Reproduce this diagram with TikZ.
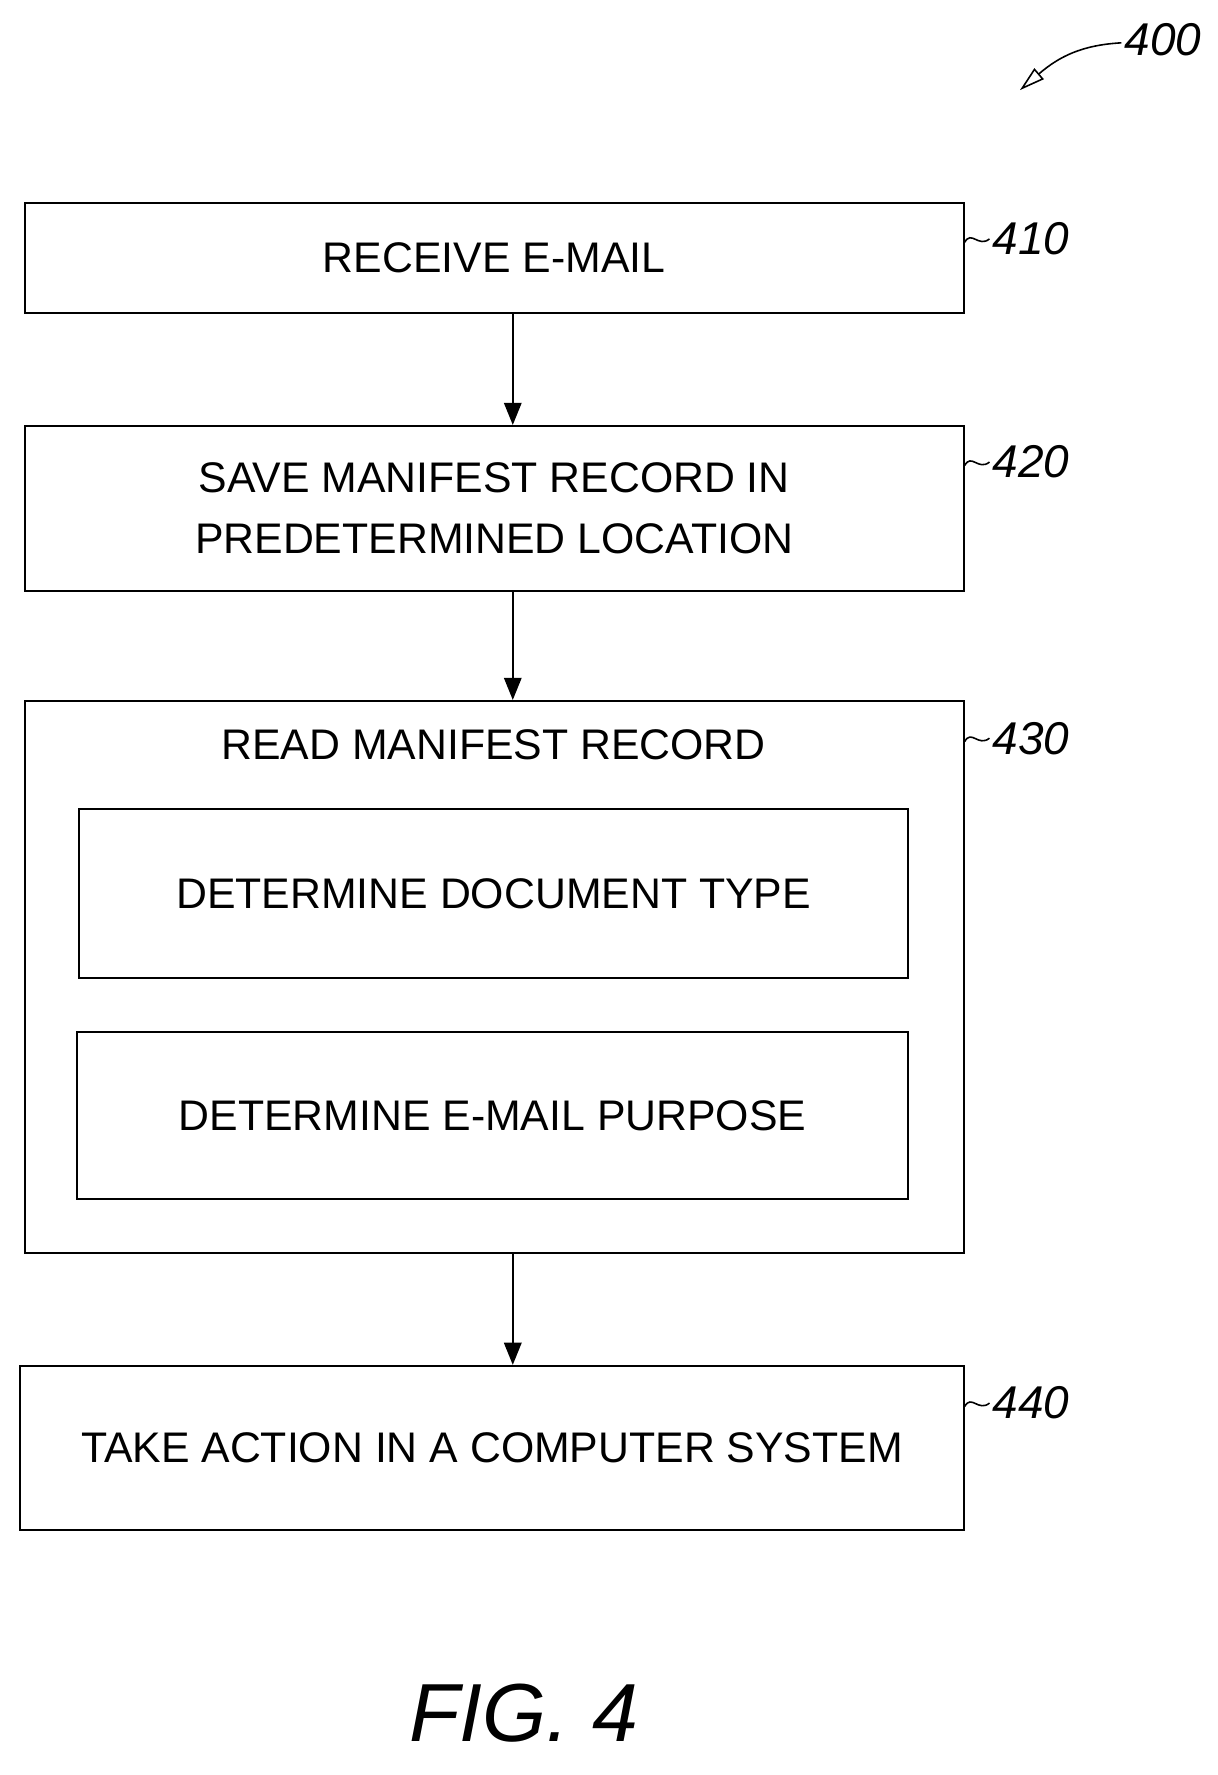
\documentclass[tikz,border=0pt]{standalone}
\usepackage{fontspec}
\setmainfont{Liberation Sans}
\usetikzlibrary{arrows.meta,fit}
\tikzset{
  box/.style={draw, line width=1.3pt, inner sep=0pt},
  txt/.style={align=center, font=\fontsize{27}{38}\selectfont},
  flow/.style={line width=1.3pt, -{Triangle[length=14pt,width=11pt]}},
  reflab/.style={font=\fontsize{29}{36}\selectfont\itshape, anchor=west},
}
\begin{document}
\begin{tikzpicture}[x=0.025cm,y=-0.025cm]
\useasboundingbox (0,0) rectangle (1080,1575);

% steps
\node[box, fit={(22,180)(855,278)}] (s410) {};
\node[txt] at (s410.center) {RECEIVE E-MAIL};
\node[box, fit={(22,378)(855,524)}] (s420) {};
\node[txt] at (s420.center) {SAVE MANIFEST RECORD IN\\PREDETERMINED LOCATION};
\node[box, fit={(22,622)(855,1112)}] (s430) {};
\node[txt] at (438,661) {READ MANIFEST RECORD};
\node[box, fit={(70,718)(806,868)}] (d1) {};
\node[txt] at (d1.center) {DETERMINE DOCUMENT TYPE};
\node[box, fit={(68,916)(806,1064)}] (d2) {};
\node[txt] at (d2.center) {DETERMINE E-MAIL PURPOSE};
\node[box, fit={(18,1212)(855,1358)}] (s440) {};
\node[txt] at (s440.center) {TAKE ACTION IN A COMPUTER SYSTEM};

% arrows
\draw[flow] (s410.south -| 455,0) -- (s420.north -| 455,0);
\draw[flow] (s420.south -| 455,0) -- (s430.north -| 455,0);
\draw[flow] (s430.south -| 455,0) -- (s440.north -| 455,0);

% reference labels
\foreach \n/\y in {410/212, 420/410, 430/655, 440/1245} {
  \draw[line width=1pt] (856,\y+3) .. controls (862,\y-8) and (868,\y+8) .. (878,\y);
  \node[reflab] at (876,\y) {\n};
}
\coordinate (tip) at (905,80);
\draw[line width=1pt, {Triangle[open,length=16pt,width=9pt]}-] (tip) .. controls (940,50) and (960,40) .. (995,38);
\node[reflab] at (993,35) {400};

\node[font=\fontsize{52}{60}\selectfont\itshape] at (465,1520) {FIG. 4};
\end{tikzpicture}
\end{document}
